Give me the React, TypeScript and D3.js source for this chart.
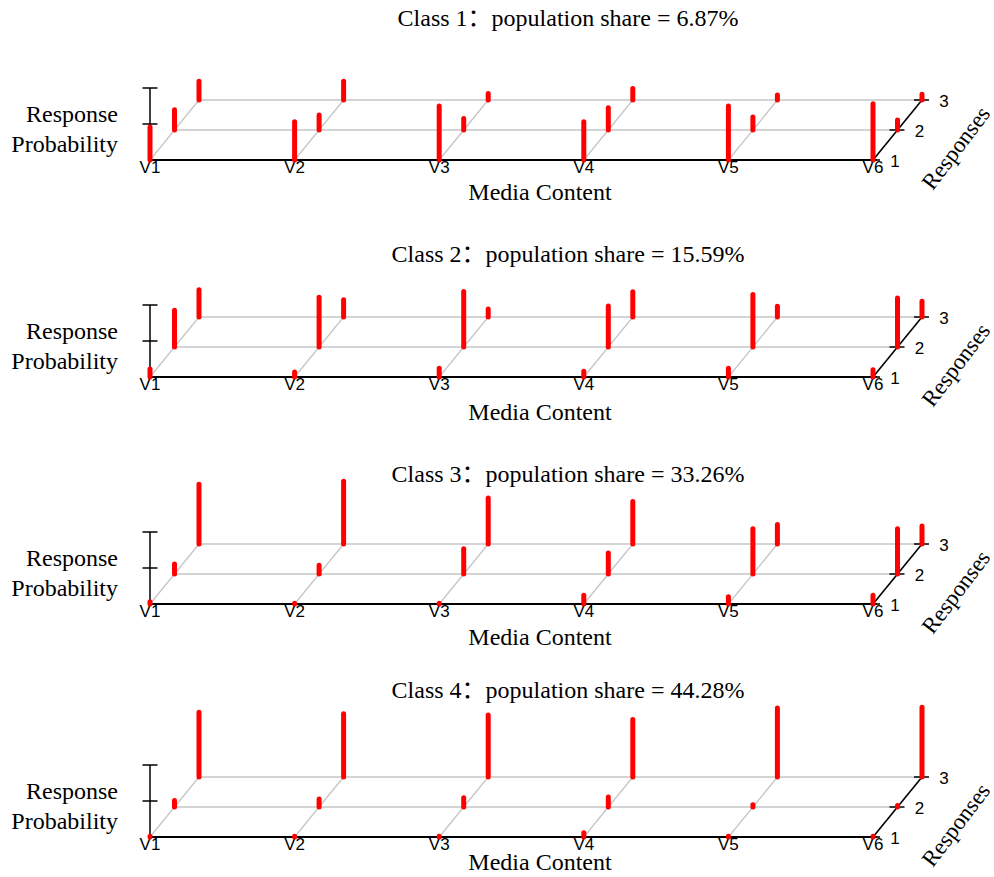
import React from 'react';
import * as d3 from 'd3';

const categories = ['V1', 'V2', 'V3', 'V4', 'V5', 'V6'];
const responses = ['1', '2', '3'];
const classNames = ['Class 1', 'Class 2', 'Class 3', 'Class 4'];
const populationShares = ['6.87%', '15.59%', '33.26%', '44.28%'];

// probabilities of responses 1, 2, 3 for each media content item
const class1 = [
  [0.46, 0.28, 0.26],
  [0.53, 0.21, 0.26],
  [0.75, 0.16, 0.09],
  [0.53, 0.31, 0.16],
  [0.75, 0.18, 0.07],
  [0.78, 0.14, 0.08],
];
const class2 = [
  [0.11, 0.51, 0.38],
  [0.07, 0.69, 0.24],
  [0.12, 0.77, 0.11],
  [0.08, 0.57, 0.35],
  [0.12, 0.73, 0.15],
  [0.10, 0.68, 0.22],
];
const class3 = [
  [0.03, 0.14, 0.83],
  [0.01, 0.12, 0.87],
  [0.01, 0.35, 0.64],
  [0.12, 0.29, 0.59],
  [0.10, 0.63, 0.27],
  [0.12, 0.63, 0.25],
];
const class4 = [
  [0.01, 0.09, 0.90],
  [0.01, 0.11, 0.88],
  [0.01, 0.13, 0.86],
  [0.06, 0.14, 0.80],
  [0.01, 0.03, 0.96],
  [0.01, 0.02, 0.97],
];
const classProbs = [class1, class2, class3, class4];

// layout
const W = 994;
const H = 877;
const panelBase = [160, 377, 604, 837];
const titleY = [26, 262, 482, 698];
const xTitleY = [200, 420, 645, 870];
const SERIF = '"Liberation Serif", "Times New Roman", "Noto Sans CJK SC", serif';
const SANS = '"Liberation Sans", Arial, Helvetica, sans-serif';
const GREY = '#c6c6c6';

export default function App() {
  const x = d3.scalePoint<string>().domain(categories).range([150, 873]);
  const depth = d3.scalePoint<string>().domain(responses).range([0, 2]);
  const DX = 24.5;
  const DY = -30;
  const h = d3.scaleLinear().domain([0, 1]).range([0, 72]);
  const first = categories[0];
  const last = categories[categories.length - 1];

  return (
    <svg width={W} height={H} style={{ position: 'absolute', left: 0, top: 0, background: '#fff' }}>
      {classProbs.map((probs, ci) => {
        const base = panelBase[ci];
        const px = (c: string, r: string) => (x(c) as number) + (depth(r) as number) * DX;
        const py = (r: string) => base + (depth(r) as number) * DY;
        return (
          <g key={ci}>
            <text x={568} y={titleY[ci]} textAnchor="middle" fontFamily={SERIF} fontSize={24}>
              {`${classNames[ci]}：population share = ${populationShares[ci]}`}
            </text>
            {/* back gridlines */}
            {responses.slice(1).map((r) => (
              <line key={r} x1={px(first, r)} x2={px(last, r)} y1={py(r)} y2={py(r)} stroke={GREY} strokeWidth={1.5} />
            ))}
            {/* depth lines */}
            {categories.map((c) => (
              <line
                key={c}
                x1={px(c, responses[0])}
                y1={py(responses[0])}
                x2={px(c, responses[responses.length - 1])}
                y2={py(responses[responses.length - 1])}
                stroke={c === last ? '#000' : GREY}
                strokeWidth={c === last ? 1.6 : 1.3}
              />
            ))}
            {/* baseline */}
            <line x1={px(first, '1')} x2={px(last, '1') + 4} y1={base} y2={base} stroke="#000" strokeWidth={1.8} />
            {/* right axis ticks & labels */}
            {responses.map((r) => (
              <g key={r}>
                <line x1={px(last, r) - 8} x2={px(last, r) + 7} y1={py(r)} y2={py(r)} stroke="#000" strokeWidth={1.5} />
                <text x={px(last, r) + 22} y={py(r) + 6.5} textAnchor="middle" fontFamily={SANS} fontSize={17}>
                  {r}
                </text>
              </g>
            ))}
            {/* left vertical axis */}
            <line x1={x(first)} x2={x(first)} y1={base} y2={base - h(1)} stroke="#000" strokeWidth={1.5} />
            {[0.5, 1].map((t) => (
              <line key={t} x1={(x(first) as number) - 7.5} x2={(x(first) as number) + 7.5} y1={base - h(t)} y2={base - h(t)} stroke="#000" strokeWidth={1.5} />
            ))}
            {/* category labels */}
            {categories.map((c) => (
              <text key={c} x={x(c)} y={base + 12.5} textAnchor="middle" fontFamily={SANS} fontSize={17}>
                {c}
              </text>
            ))}
            {/* bars */}
            {categories.map((c, i) =>
              responses.map((r, j) => (
                <line
                  key={c + r}
                  x1={px(c, r)}
                  x2={px(c, r)}
                  y1={py(r)}
                  y2={py(r) - h(probs[i][j])}
                  stroke="#ff0000"
                  strokeWidth={5}
                  strokeLinecap="round"
                />
              ))
            )}
            {/* axis titles */}
            <text x={118} y={base - 38} textAnchor="end" fontFamily={SERIF} fontSize={24}>
              Response
            </text>
            <text x={118} y={base - 8} textAnchor="end" fontFamily={SERIF} fontSize={24}>
              Probability
            </text>
            <text x={540} y={xTitleY[ci]} textAnchor="middle" fontFamily={SERIF} fontSize={24}>
              Media Content
            </text>
            <text
              x={0}
              y={0}
              transform={`translate(956,${base - 12}) rotate(-53)`}
              textAnchor="middle"
              dominantBaseline="central"
              fontFamily={SERIF}
              fontSize={23}
            >
              Responses
            </text>
          </g>
        );
      })}
    </svg>
  );
}
